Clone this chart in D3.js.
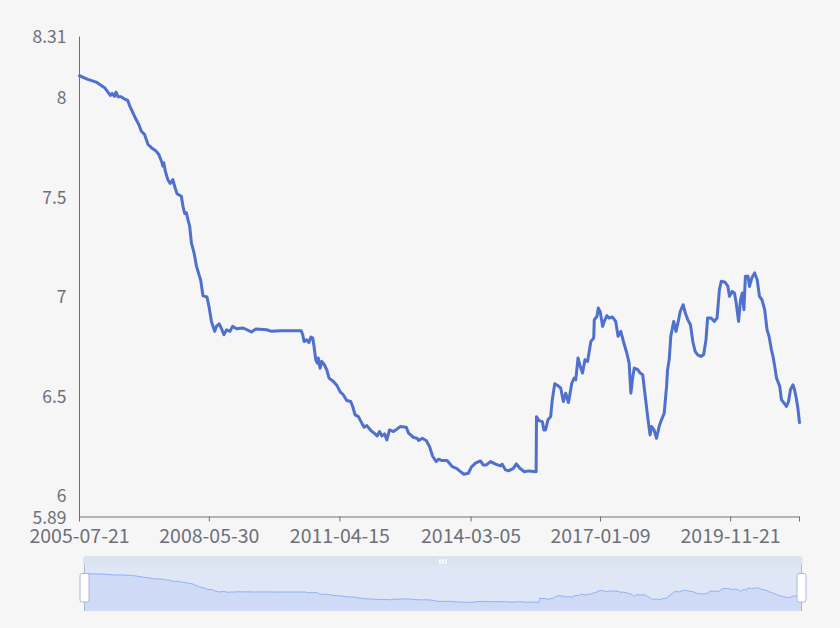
<!DOCTYPE html>
<html><head><meta charset="utf-8">
<script src="https://cdn.jsdelivr.net/npm/d3@7"></script>
<style>html,body{margin:0;padding:0;background:#f6f6f6;}svg{display:block;}</style>
</head><body>
<svg id="chart" width="840" height="628"></svg>
<script>
const dates = [
"2005-07-21","2005-09-26","2005-12-02","2006-02-08","2006-03-26","2006-04-09","2006-04-28","2006-05-11","2006-05-27","2006-06-21",
"2006-07-25","2006-08-13","2006-08-27","2006-09-23","2006-10-12","2006-11-10","2006-11-30","2006-12-26","2007-01-23","2007-02-19",
"2007-03-29","2007-04-20","2007-05-14","2007-05-22","2007-05-30","2007-06-11","2007-07-01","2007-07-20","2007-08-11","2007-08-25",
"2007-09-13","2007-10-18","2007-10-31","2007-11-14","2007-11-28","2007-12-10","2007-12-24","2008-01-07","2008-01-28","2008-02-17",
"2008-03-08","2008-03-21","2008-04-09","2008-05-11","2008-05-27","2008-06-16","2008-07-12","2008-07-26","2008-08-17","2008-09-06",
"2008-09-24","2008-10-16","2008-11-12","2008-12-03","2009-01-04","2009-02-26","2009-05-03","2009-06-08","2009-09-03","2009-10-12",
"2009-12-20","2010-06-08","2010-06-20","2010-07-01","2010-07-21","2010-08-09","2010-08-25","2010-09-09","2010-09-19","2010-10-03",
"2010-10-16","2010-10-23","2010-11-07","2010-11-20","2010-12-11","2010-12-30","2011-01-18","2011-02-22","2011-03-24","2011-04-16",
"2011-05-12","2011-06-09","2011-07-11","2011-07-27","2011-08-15","2011-09-11","2011-10-08","2011-10-27","2011-11-18","2011-12-20",
"2012-01-16","2012-02-08","2012-02-28","2012-03-17","2012-04-08","2012-04-27","2012-05-18","2012-06-19","2012-07-16","2012-08-12",
"2012-09-30","2012-10-18","2012-11-28","2012-12-25","2013-01-08","2013-02-05","2013-03-09","2013-04-05","2013-04-29","2013-05-29",
"2013-06-17","2013-07-14","2013-08-24","2013-10-04","2013-11-08","2013-12-10","2014-01-06","2014-02-11","2014-03-07","2014-04-09",
"2014-05-19","2014-06-10","2014-07-06","2014-08-08","2014-09-18","2014-10-27","2014-11-10","2014-12-07","2015-01-03","2015-02-08",
"2015-03-04","2015-04-01","2015-05-08","2015-06-12","2015-08-10","2015-08-13","2015-09-01","2015-09-29","2015-10-11","2015-10-25",
"2015-11-13","2015-12-05","2015-12-18","2016-01-07","2016-02-03","2016-02-24","2016-03-16","2016-04-04","2016-04-26","2016-05-09",
"2016-05-23","2016-06-11","2016-06-24","2016-07-12","2016-07-28","2016-08-17","2016-09-06","2016-09-27","2016-10-10","2016-10-23",
"2016-11-15","2016-11-20","2016-12-11","2016-12-22","2017-01-06","2017-01-26","2017-02-08","2017-03-01","2017-03-18","2017-04-15",
"2017-05-11","2017-05-30","2017-06-21","2017-07-12","2017-08-08","2017-08-27","2017-09-10","2017-09-24","2017-10-07","2017-11-04",
"2017-11-24","2017-12-14","2018-01-02","2018-01-23","2018-02-11","2018-02-24","2018-03-15","2018-04-04","2018-04-25","2018-05-14",
"2018-06-05","2018-06-24","2018-07-02","2018-07-15","2018-07-28","2018-08-20","2018-09-08","2018-09-26","2018-10-12","2018-11-04",
"2018-11-22","2018-12-11","2019-01-02","2019-01-21","2019-02-09","2019-03-01","2019-03-27","2019-04-18","2019-05-07","2019-05-20",
"2019-06-17","2019-07-13","2019-08-04","2019-08-23","2019-09-07","2019-10-08","2019-10-30","2019-11-12","2019-12-04","2019-12-22",
"2020-01-05","2020-01-24","2020-02-09","2020-02-23","2020-03-07","2020-03-19","2020-04-09","2020-04-21","2020-05-10","2020-06-01",
"2020-06-22","2020-07-10","2020-07-30","2020-08-21","2020-09-09","2020-09-25","2020-10-14","2020-10-27","2020-11-10","2020-11-24",
"2020-12-20","2021-01-03","2021-01-24","2021-02-12","2021-03-01","2021-03-16","2021-04-05","2021-04-18","2021-05-02","2021-05-15",
"2021-05-28"
];
const rates = [
8.11,8.092,8.078,8.05,8.011,8.021,8.006,8.028,8.004,8.004,
7.991,7.986,7.961,7.924,7.899,7.865,7.831,7.815,7.764,7.748,
7.731,7.714,7.675,7.655,7.672,7.63,7.588,7.568,7.588,7.554,
7.517,7.504,7.453,7.417,7.42,7.386,7.353,7.269,7.219,7.151,
7.109,7.084,7.003,6.997,6.95,6.874,6.824,6.849,6.862,6.836,
6.807,6.832,6.824,6.849,6.837,6.841,6.821,6.836,6.832,6.824,
6.827,6.827,6.807,6.773,6.782,6.768,6.795,6.79,6.748,6.681,
6.664,6.69,6.639,6.673,6.656,6.631,6.589,6.572,6.55,6.521,
6.505,6.476,6.471,6.446,6.404,6.395,6.362,6.342,6.35,6.325,
6.312,6.298,6.32,6.298,6.308,6.278,6.328,6.32,6.332,6.345,
6.342,6.312,6.29,6.286,6.275,6.286,6.275,6.244,6.197,6.169,
6.181,6.174,6.174,6.144,6.135,6.118,6.105,6.11,6.141,6.161,
6.172,6.152,6.152,6.169,6.156,6.147,6.156,6.127,6.123,6.135,
6.157,6.135,6.118,6.122,6.118,6.395,6.375,6.37,6.328,6.328,
6.379,6.395,6.48,6.56,6.55,6.538,6.471,6.513,6.466,6.513,
6.564,6.589,6.58,6.69,6.651,6.614,6.681,6.673,6.723,6.773,
6.79,6.883,6.899,6.941,6.924,6.849,6.874,6.903,6.891,6.896,
6.874,6.799,6.824,6.773,6.715,6.664,6.513,6.589,6.639,6.631,
6.614,6.606,6.505,6.395,6.303,6.345,6.328,6.286,6.345,6.379,
6.412,6.547,6.631,6.681,6.799,6.874,6.824,6.874,6.924,6.958,
6.916,6.883,6.857,6.773,6.723,6.706,6.698,6.706,6.782,6.891,
6.891,6.874,6.891,7.034,7.076,7.071,7.05,7.0,7.025,7.017,
6.967,6.874,6.983,7.017,6.933,7.101,7.101,7.05,7.093,7.118,
7.084,7.0,6.983,6.933,6.832,6.799,6.731,6.698,6.647,6.589,
6.547,6.48,6.463,6.446,6.471,6.53,6.555,6.53,6.488,6.438,
6.365
];
const yTicks = [5.89, 6, 6.5, 7, 7.5, 8, 8.31];
const xTickLabels = ["2005-07-21","2008-05-30","2011-04-15","2014-03-05","2017-01-09","2019-11-21"];

const FONT = "'Noto Sans CJK SC','Noto Sans',sans-serif";
const AXIS_COLOR = "#6E7079";
const parse = d3.timeParse("%Y-%m-%d");
const data = dates.map((d, i) => ({date: parse(d), value: rates[i]}));

const svg = d3.select("#chart");
svg.append("rect").attr("width", 840).attr("height", 628).attr("fill", "#f6f6f6");

const x = d3.scaleTime().domain([data[0].date, data[data.length - 1].date]).range([79.5, 799.5]);
const y = d3.scaleLinear().domain([yTicks[0], yTicks[yTicks.length - 1]]).range([517, 36]);

// Y axis
const yAxis = svg.append("g").attr("transform", "translate(79,0)")
  .call(d3.axisLeft(y).tickValues(yTicks).tickFormat(d => String(d)).tickSize(0).tickSizeOuter(0).tickPadding(12.5));
yAxis.select(".domain").attr("stroke", AXIS_COLOR);
yAxis.selectAll("text").attr("fill", AXIS_COLOR).attr("font-family", FONT).attr("font-size", 17.5).attr("dy", "0.36em");

// X axis
const xTickDates = xTickLabels.map(parse).concat([data[data.length - 1].date]);
const xAxis = svg.append("g").attr("transform", "translate(-0.5,516.5)")
  .call(d3.axisBottom(x).tickValues(xTickDates).tickFormat((d, i) => i < xTickLabels.length ? xTickLabels[i] : "").tickSize(5).tickSizeOuter(0));
xAxis.select(".domain").attr("stroke", AXIS_COLOR);
xAxis.selectAll(".tick line").attr("stroke", AXIS_COLOR);
xAxis.selectAll("text").attr("fill", AXIS_COLOR).attr("font-family", FONT).attr("font-size", 19.5).attr("y", 26.5).attr("dy", 0);

// Main line
const line = d3.line().x(d => x(d.date)).y(d => y(d.value));
svg.append("path").datum(data).attr("d", line)
  .attr("fill", "none").attr("stroke", "#4f70cc").attr("stroke-width", 3)
  .attr("stroke-linejoin", "round").attr("stroke-linecap", "round");

// DataZoom slider
const sLeft = 84.5, sRight = 801.5, sTop = 565, sBottom = 611;
const sx = d3.scaleTime().domain(x.domain()).range([sLeft, sRight]);
const ext = d3.extent(rates);
const pad = (ext[1] - ext[0]) * 0.3;
const sy = d3.scaleLinear().domain([ext[0] - pad, ext[1] + pad]).range([sBottom, sTop]);

const slider = svg.append("g");
slider.append("rect").attr("x", sLeft).attr("y", sTop).attr("width", sRight - sLeft).attr("height", sBottom - sTop)
  .attr("fill", "rgba(135,175,255,0.2)");
slider.append("path").datum(data)
  .attr("d", d3.area().x(d => sx(d.date)).y0(sBottom).y1(d => sy(d.value)))
  .attr("fill", "#8fb0f7").attr("fill-opacity", 0.2);
slider.append("path").datum(data)
  .attr("d", d3.line().x(d => sx(d.date)).y(d => sy(d.value)))
  .attr("fill", "none").attr("stroke", "#8fb0f7").attr("stroke-width", 1);

// move handle (top band)
const bx0 = 83, bx1 = 802.5, by0 = 556, by1 = 565, r = 3;
slider.append("path")
  .attr("d", `M${bx0},${by1}V${by0 + r}Q${bx0},${by0} ${bx0 + r},${by0}H${bx1 - r}Q${bx1},${by0} ${bx1},${by0 + r}V${by1}Z`)
  .attr("fill", "#D2DBEE").attr("fill-opacity", 0.7);
const gripCx = (sLeft + sRight) / 2;
[-3, 0, 3].forEach(o => {
  slider.append("rect").attr("x", gripCx + o - 0.8).attr("y", 559).attr("width", 1.6).attr("height", 5)
    .attr("rx", 0.8).attr("fill", "#ffffff");
});

// handles
[sLeft, sRight].forEach(hx => {
  slider.append("line").attr("x1", hx).attr("x2", hx).attr("y1", sTop - 0.5).attr("y2", sBottom)
    .attr("stroke", "#ACB8D1").attr("stroke-width", 1);
  slider.append("rect").attr("x", hx - 4.5).attr("y", 573.5).attr("width", 9).attr("height", 28.5)
    .attr("rx", 2).attr("fill", "#ffffff").attr("stroke", "#ACB8D1").attr("stroke-width", 1);
});
</script>
</body></html>
